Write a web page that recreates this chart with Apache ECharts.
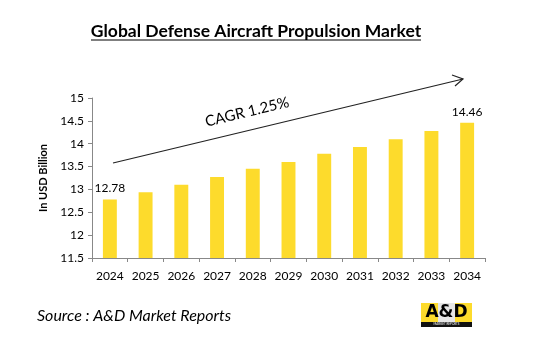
<!DOCTYPE html>
<html>
<head>
<meta charset="utf-8">
<script src="https://cdn.jsdelivr.net/npm/echarts@6/dist/echarts.min.js"></script>
<style>
  html, body { margin: 0; padding: 0; background: #fff; }
  #chart { width: 550px; height: 350px; }
</style>
</head>
<body>
<div id="chart"></div>
<script>
// Market size by year (USD billion)
const years = ['2024', '2025', '2026', '2027', '2028', '2029', '2030', '2031', '2032', '2033', '2034'];
const marketValues = [12.78, 12.94, 13.10, 13.27, 13.45, 13.60, 13.78, 13.93, 14.10, 14.28, 14.46];
const yTicks = [11.5, 12, 12.5, 13, 13.5, 14, 14.5, 15];

const chart = echarts.init(document.getElementById('chart'));
const font = 'Lato, "Open Sans", sans-serif';
const axisGrey = '#888888';

const option = {
    animation: false,
    grid: { left: 92, right: 65, top: 98, bottom: 92 },
    xAxis: {
        type: 'category',
        data: years,
        axisLine: { lineStyle: { color: axisGrey } },
        axisTick: { show: true, length: 4, alignWithLabel: false, lineStyle: { color: axisGrey } },
        axisLabel: { color: '#000', fontFamily: font, fontSize: 12, margin: 12, interval: 0 }
    },
    yAxis: {
        type: 'value',
        min: yTicks[0],
        max: yTicks[yTicks.length - 1],
        interval: 0.5,
        name: 'In USD Billion',
        nameLocation: 'middle',
        nameGap: 42,
        nameTextStyle: { fontFamily: font, fontSize: 11, fontWeight: 'bold', color: '#000' },
        splitLine: { show: false },
        axisLine: { show: true, lineStyle: { color: axisGrey } },
        axisTick: { show: true, length: 4, lineStyle: { color: axisGrey } },
        axisLabel: { color: '#000', fontFamily: font, fontSize: 12, margin: 8 }
    },
    series: [{
        type: 'bar',
        data: marketValues,
        barWidth: '39%',
        itemStyle: { color: '#FDDB2C' },
        label: {
            show: true,
            position: 'top',
            distance: 5,
            fontFamily: font,
            fontSize: 12,
            color: '#000',
            formatter: function (p) {
                return (p.dataIndex === 0 || p.dataIndex === years.length - 1) ? p.value.toFixed(2) : '';
            }
        }
    }],
    graphic: [
        {
            type: 'text',
            x: 256, y: 31,
            style: {
                text: 'Global Defense Aircraft Propulsion Market',
                fontFamily: font, fontSize: 17.5, fontWeight: 'bold', fill: '#000',
                align: 'center', verticalAlign: 'middle'
            }
        },
        {
            type: 'line',
            shape: { x1: 91, y1: 40, x2: 421, y2: 40 },
            style: { stroke: '#000', lineWidth: 1.2 }
        },
        // CAGR trend arrow
        {
            type: 'line',
            shape: { x1: 113, y1: 163, x2: 463, y2: 79 },
            style: { stroke: '#222', lineWidth: 1.2 }
        },
        {
            type: 'polyline',
            shape: { points: [[452, 75], [463, 79], [455, 86]] },
            style: { stroke: '#222', lineWidth: 1.2, fill: null }
        },
        {
            type: 'text',
            x: 247, y: 112,
            rotation: 13.5 * Math.PI / 180,
            style: {
                text: 'CAGR 1.25%',
                fontFamily: font, fontSize: 15, fill: '#000',
                align: 'center', verticalAlign: 'middle'
            }
        },
        {
            type: 'text',
            left: 37, top: 308,
            style: {
                text: 'Source : A&D Market Reports',
                fontFamily: font, fontSize: 16, fontStyle: 'italic', fill: '#000'
            }
        },
        // logo
        { type: 'rect', shape: { x: 421, y: 303, width: 17, height: 19 }, style: { fill: '#FDDB2C' } },
        { type: 'rect', shape: { x: 438, y: 303, width: 17, height: 19 }, style: { fill: '#e6e6e6' } },
        { type: 'rect', shape: { x: 455, y: 303, width: 17, height: 19 }, style: { fill: '#FDDB2C' } },
        { type: 'rect', shape: { x: 421, y: 322, width: 51, height: 5 }, style: { fill: '#111' } },
        {
            type: 'text', x: 446.5, y: 313,
            style: { text: 'A&D', fontFamily: '"DejaVu Sans", sans-serif', fontSize: 17, fontWeight: 'bold', fill: '#000', align: 'center', verticalAlign: 'middle' }
        },
        {
            type: 'text', x: 446.5, y: 324.5,
            style: { text: 'MARKET REPORTS', fontFamily: font, fontSize: 3, fill: '#fff', align: 'center', verticalAlign: 'middle' }
        }
    ]
};

chart.setOption(option);
</script>
</body>
</html>
